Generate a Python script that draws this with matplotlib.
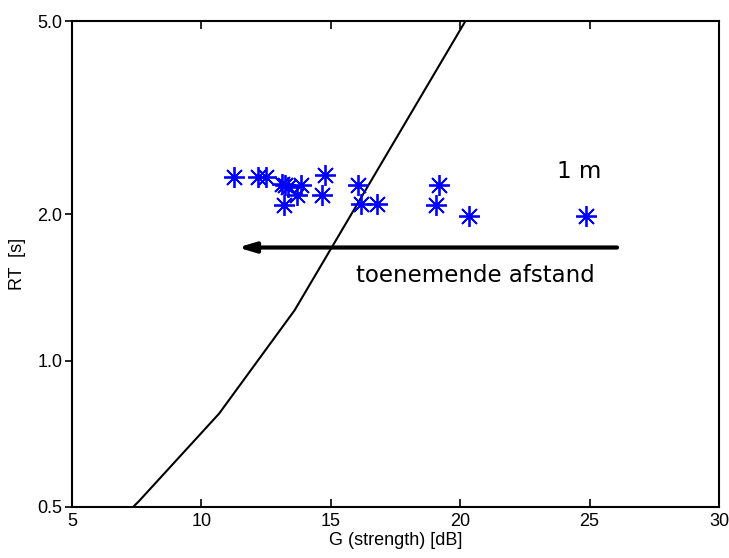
import matplotlib

matplotlib.use("Agg")
import matplotlib.pyplot as plt
from matplotlib.ticker import FixedLocator, NullLocator, FixedFormatter

# limit curve
curve_g = [7.36, 7.6, 10.68, 13.6, 20.2]
curve_rt = [0.5, 0.515, 0.778, 1.27, 5.0]

# measured points
meas_g = [11.26, 12.19, 12.50, 13.11, 13.23, 13.35, 13.85, 13.69, 13.19,
          14.78, 14.66, 16.05, 16.17, 16.79, 19.17, 19.05, 20.34, 24.86]
meas_rt = [2.39, 2.39, 2.39, 2.31, 2.30, 2.28, 2.30, 2.19, 2.09,
           2.41, 2.19, 2.30, 2.10, 2.10, 2.30, 2.09, 1.99, 1.99]

# arrow (start -> end), at RT level
arrow_x = (26.06, 11.41)
arrow_y = 1.71

yticks = [0.5, 1.0, 2.0, 5.0]
ytick_labels = ["0.5", "1.0", "2.0", "5.0"]
xticks = [5, 10, 15, 20, 25, 30]

fig = plt.figure(figsize=(7.29, 5.58), dpi=100)
ax = fig.add_axes([0.0988, 0.0914, 0.8875, 0.8708])

ax.plot(curve_g, curve_rt, color="black", lw=1.5)
ax.plot(meas_g, meas_rt, linestyle="none", marker=(8, 2, 0), markersize=15,
        markeredgewidth=1.3, color="#0000ff")

ax.annotate("", xy=(arrow_x[1], arrow_y), xytext=(arrow_x[0], arrow_y),
            arrowprops=dict(arrowstyle="-|>,head_length=1.0,head_width=0.3",
                            color="black", lw=3, shrinkA=0, shrinkB=0))

ax.text(24.6, 2.45, "1 m", fontsize=16.5, family="DejaVu Sans",
        ha="center", va="center")
ax.text(15.97, 1.50, "toenemende afstand", fontsize=16.5, family="DejaVu Sans",
        ha="left", va="center")

ax.set_yscale("log")
ax.set_xlim(5, 30)
ax.set_ylim(0.5, 5.0)
ax.yaxis.set_major_locator(FixedLocator(yticks))
ax.yaxis.set_major_formatter(FixedFormatter(ytick_labels))
ax.yaxis.set_minor_locator(NullLocator())
ax.set_xticks(xticks)

for lbl in ax.get_xticklabels() + ax.get_yticklabels():
    lbl.set_family("Liberation Sans")
    lbl.set_fontsize(13)

ax.tick_params(axis="x", direction="in", top=True, length=6, width=1.2, pad=4)
ax.tick_params(axis="y", direction="out", right=False, length=5, width=1.2, pad=2)
for s in ax.spines.values():
    s.set_linewidth(1.5)

ax.set_xlabel("G (strength) [dB]", family="Liberation Sans", fontsize=13, labelpad=2)
ax.set_ylabel("RT  [s]", family="Liberation Sans", fontsize=13, labelpad=8)

fig.savefig("out.png", dpi=100)
plt.close(fig)
